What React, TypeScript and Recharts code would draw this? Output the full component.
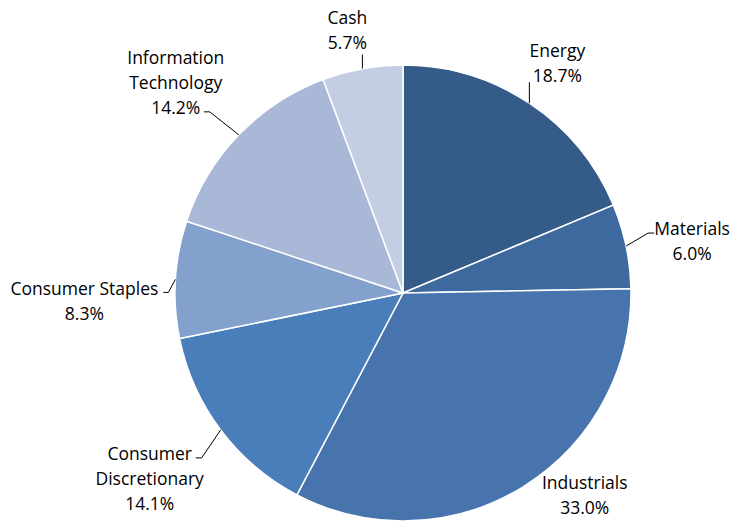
import React from "react";
import { PieChart, Pie, Cell } from "recharts";

const sectors = [
  "Energy",
  "Materials",
  "Industrials",
  "Consumer Discretionary",
  "Consumer Staples",
  "Information Technology",
  "Cash",
];
const weights = [18.7, 6.0, 33.0, 14.1, 8.3, 14.2, 5.7];
const labelLines: string[][] = [
  ["Energy"],
  ["Materials"],
  ["Industrials"],
  ["Consumer", "Discretionary"],
  ["Consumer Staples"],
  ["Information", "Technology"],
  ["Cash"],
];

const colors = ["#355B89", "#3E699F", "#4774AD", "#4A7EBB", "#84A0CC", "#AAB8D7", "#C3CEE2"];

// label layout: text offset relative to slice edge point, and leader line points (relative)
const layout: { tx: number; ty: number; line: [number, number][] }[] = [
  { tx: 28, ty: -53, line: [[0, 0], [0, -21]] },
  { tx: 66, ty: -18, line: [[0, 0], [22, -13], [28, -13]] },
  { tx: 62, ty: -5, line: [] },
  { tx: -71, ty: 23, line: [[0, 0], [-19, 28], [-25, 28]] },
  { tx: -91, ty: 9, line: [[0, 0], [-7, 13], [-12, 13]] },
  { tx: -63, ty: -78, line: [[0, 0], [-29, -23], [-35, -23]] },
  { tx: -15, ty: -52, line: [[0, 0], [0, -14]] },
];

const data = sectors.map((name, i) => ({ name, value: weights[i], idx: i }));

const RAD = Math.PI / 180;

const renderLabel = (props: any) => {
  const { cx, cy, midAngle, outerRadius, index } = props;
  const px = cx + Math.cos(-midAngle * RAD) * outerRadius;
  const py = cy + Math.sin(-midAngle * RAD) * outerRadius;
  const l = layout[index];
  const lines = [...labelLines[index], weights[index].toFixed(1) + "%"];
  const pts = l.line.map(([dx, dy]) => `${px + dx},${py + dy}`).join(" ");
  return (
    <g key={`lbl-${index}`}>
      {l.line.length > 0 && (
        <polyline points={pts} fill="none" stroke="#000" strokeWidth={1} />
      )}
      {lines.map((t, k) => (
        <text
          key={k}
          x={px + l.tx}
          y={py + l.ty + k * 25}
          textAnchor="middle"
          dominantBaseline="central"
          fontFamily="'Open Sans', 'Noto Sans', sans-serif"
          fontSize={17.5}
          fill="#000"
        >
          {t}
        </text>
      ))}
    </g>
  );
};

export default function App() {
  return (
    <div style={{ position: "absolute", left: 0, top: 0, width: 737, height: 523, background: "#fff" }}>
      <PieChart width={737} height={523} margin={{ top: 0, right: 0, bottom: 0, left: 0 }}>
        <Pie
          data={data}
          dataKey="value"
          nameKey="name"
          cx={403}
          cy={293}
          outerRadius={228}
          startAngle={90}
          endAngle={-270}
          stroke="#fff"
          strokeWidth={1.5}
          label={renderLabel}
          labelLine={false}
          isAnimationActive={false}
        >
          {data.map((d, i) => (
            <Cell key={d.name} fill={colors[i]} />
          ))}
        </Pie>
      </PieChart>
    </div>
  );
}
